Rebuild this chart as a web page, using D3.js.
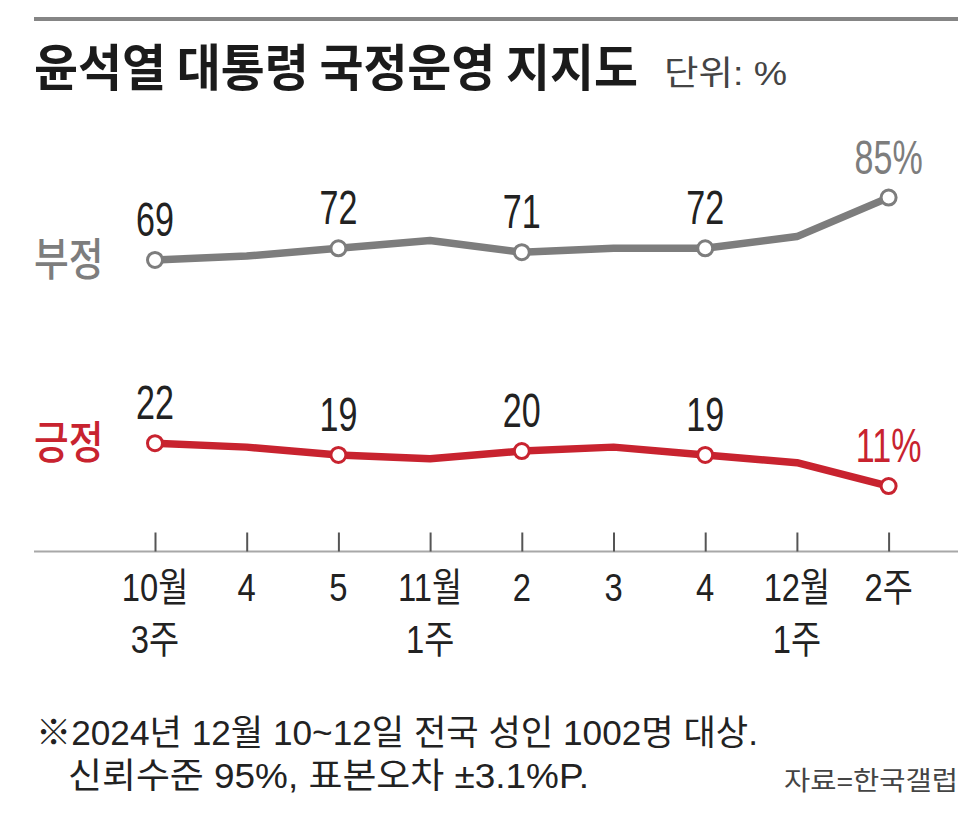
<!DOCTYPE html>
<html>
<head>
<meta charset="utf-8">
<script src="https://cdn.jsdelivr.net/npm/d3@7"></script>
<style>
  body { margin: 0; background: #fff; }
</style>
</head>
<body>
<div id="chart"></div>
<script>
// weekly survey points (Gallup Korea)
var weeks = [["10월","3주"], ["4"], ["5"], ["11월","1주"], ["2"], ["3"], ["4"], ["12월","1주"], ["2주"]];
var negative = [69, 70, 72, 74, 71, 72, 72, 75, 85];
var positive = [22, 21, 19, 18, 20, 21, 19, 17, 11];
var labelled = [0, 2, 4, 6, 8];   // points that get a marker + value

var W = 967, H = 831;
var GRAY = "#7d7d7d", RED = "#c8232f", INK = "#222";
var NUMFONT = "'Liberation Sans', 'Noto Sans CJK KR', sans-serif";
var KRFONT = "'Noto Sans CJK KR', 'Noto Sans', sans-serif";

var svg = d3.select("#chart").append("svg")
    .attr("width", W)
    .attr("height", H)
    .style("background", "#fff");

var x = d3.scalePoint()
    .domain(d3.range(weeks.length))
    .range([155, 888.6]);

var y = d3.scaleLinear()
    .domain([0, 85])
    .range([529, 197.6]);

// condensed text: the print font is narrow, so squeeze it horizontally
function ctext(parent, tx, ty, str, size, sx, color, font, weight, anchor) {
    var g = parent.append("g")
        .attr("transform", "translate(" + tx + "," + ty + ") scale(" + sx + ",1)");
    g.append("text")
        .attr("text-anchor", anchor || "middle")
        .style("font-family", font || NUMFONT)
        .style("font-size", size + "px")
        .style("font-weight", weight || 400)
        .attr("fill", color)
        .text(str);
    return g;
}

//top rule
svg.append("line")
    .attr("x1", 34).attr("x2", 958)
    .attr("y1", 19).attr("y2", 19)
    .attr("stroke", "#858585")
    .attr("stroke-width", 4);

//title
svg.append("text")
    .attr("x", 34).attr("y", 86)
    .attr("textLength", 604)
    .attr("lengthAdjust", "spacingAndGlyphs")
    .style("font-family", KRFONT)
    .style("font-size", "50px")
    .style("font-weight", 700)
    .attr("fill", "#1b1b1b")
    .text("윤석열 대통령 국정운영 지지도");

svg.append("text")
    .attr("x", 664).attr("y", 85)
    .attr("textLength", 123)
    .attr("lengthAdjust", "spacingAndGlyphs")
    .style("font-family", NUMFONT)
    .style("font-size", "34px")
    .attr("fill", "#444")
    .text("단위: %");

//baseline + ticks
svg.append("line")
    .attr("x1", 34).attr("x2", 958)
    .attr("y1", 551.5).attr("y2", 551.5)
    .attr("stroke", "#a8a8a8")
    .attr("stroke-width", 2);

var axis = svg.append("g")
    .attr("transform", "translate(0,551.5)")
    .call(d3.axisBottom(x).tickSizeInner(-19).tickSizeOuter(0).tickFormat(""));
axis.select(".domain").remove();
axis.selectAll(".tick line").attr("stroke", "#555").attr("stroke-width", 2);

weeks.forEach(function(lines, i) {
    lines.forEach(function(s, k) {
        ctext(svg, x(i), 601 + k * 52, s, 39, 0.84, INK);
    });
});

//series
var series = [
    { name: "부정", values: negative, color: GRAY },
    { name: "긍정", values: positive, color: RED }
];

var line = d3.line()
    .x(function(d, i) { return x(i); })
    .y(function(d) { return y(d); });

series.forEach(function(s) {
    svg.append("path")
        .datum(s.values)
        .attr("d", line)
        .attr("fill", "none")
        .attr("stroke", s.color)
        .attr("stroke-width", 7.5)
        .attr("stroke-linejoin", "round")
        .attr("stroke-linecap", "round");

    svg.selectAll(null)
        .data(labelled)
        .enter()
        .append("circle")
        .attr("cx", function(i) { return x(i); })
        .attr("cy", function(i) { return y(s.values[i]); })
        .attr("r", 7.5)
        .attr("fill", "#fff")
        .attr("stroke", s.color)
        .attr("stroke-width", 3);

    labelled.forEach(function(i) {
        var last = i === s.values.length - 1;
        ctext(svg, x(i), y(s.values[i]) - 24, s.values[i] + (last ? "%" : ""),
              48, 0.71, last ? s.color : INK);
    });

    // series name on the left, level with the first point
    ctext(svg, 34, y(s.values[0]) + 16, s.name, 45, 0.84, s.color, KRFONT, 500, "start");
});

//footnote
svg.append("text")
    .attr("x", 36).attr("y", 745)
    .attr("textLength", 722)
    .attr("lengthAdjust", "spacingAndGlyphs")
    .style("font-family", NUMFONT)
    .style("font-size", "35px")
    .attr("fill", INK)
    .text("※2024년 12월 10~12일 전국 성인 1002명 대상.");

svg.append("text")
    .attr("x", 68).attr("y", 788)
    .attr("textLength", 521)
    .attr("lengthAdjust", "spacingAndGlyphs")
    .style("font-family", NUMFONT)
    .style("font-size", "35px")
    .attr("fill", INK)
    .text("신뢰수준 95%, 표본오차  ±3.1%P.");

svg.append("text")
    .attr("x", 958).attr("y", 790)
    .attr("text-anchor", "end")
    .attr("textLength", 174)
    .attr("lengthAdjust", "spacingAndGlyphs")
    .style("font-family", NUMFONT)
    .style("font-size", "26px")
    .attr("fill", "#444")
    .text("자료=한국갤럽");
</script>
</body>
</html>
